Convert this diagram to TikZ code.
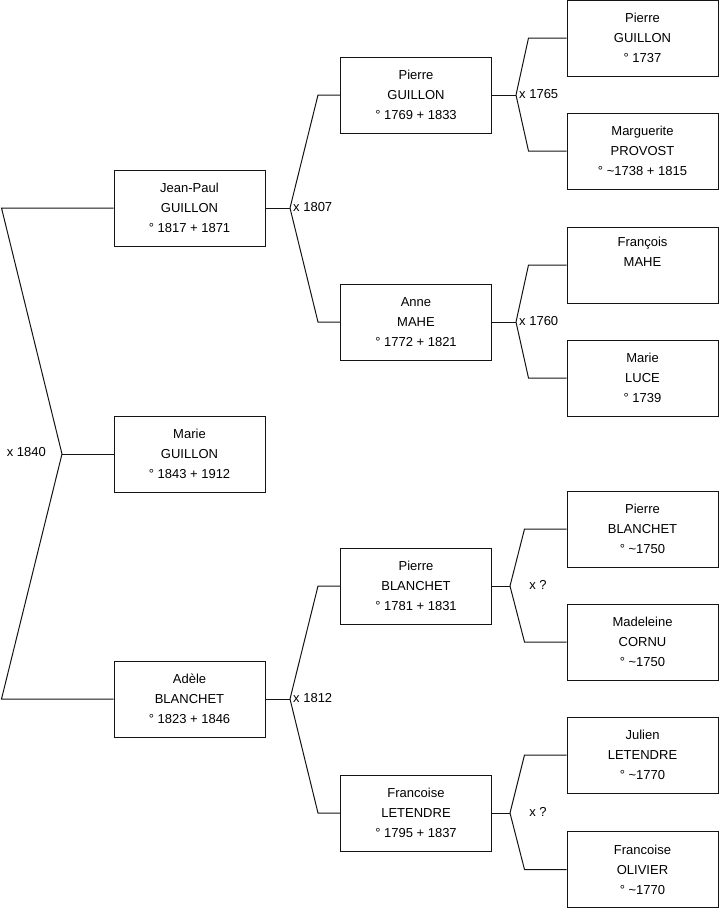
\documentclass[tikz,border=0pt]{standalone}
\usepackage{fontspec}
\setmainfont{Liberation Sans}
\usetikzlibrary{calc}
\definecolor{GNline}{RGB}{20,20,20}
\tikzset{
  person/.style={draw=GNline,line width=1pt,minimum width=151pt,minimum height=76pt,
                 inner sep=0pt,align=center,font=\fontsize{13}{20}\selectfont},
  link/.style={draw=GNline,line width=1pt},
  union/.style={font=\fontsize{13}{15}\selectfont,inner sep=0pt}
}
\begin{document}
\begin{tikzpicture}[x=1pt,y=-1pt]
  \useasboundingbox (0,0) rectangle (719,908);
  % generation 1
  \node[person] (jp) at (189.5,208) {Jean-Paul\\GUILLON\\° 1817 + 1871};
  \node[person] (marie) at (189.5,454) {Marie\\GUILLON\\° 1843 + 1912};
  \node[person] (adele) at (189.5,699) {Adèle\\BLANCHET\\° 1823 + 1846};
  % generation 2
  \node[person] (pg) at (416,95) {Pierre\\GUILLON\\° 1769 + 1833};
  \node[person] (am) at (416,322) {Anne\\MAHE\\° 1772 + 1821};
  \node[person] (pb) at (416,586) {Pierre\\BLANCHET\\° 1781 + 1831};
  \node[person] (fl) at (416,813) {Francoise\\LETENDRE\\° 1795 + 1837};
  % generation 3
  \node[person] (pg2) at (642.5,38) {Pierre\\GUILLON\\° 1737};
  \node[person] (mp) at (642.5,151) {Marguerite\\PROVOST\\° \textasciitilde 1738 + 1815};
  \node[person] (fm) at (642.5,265) {François\\MAHE\\\strut};
  \node[person] (ml) at (642.5,378) {Marie\\LUCE\\° 1739};
  \node[person] (pb2) at (642.5,529) {Pierre\\BLANCHET\\° \textasciitilde 1750};
  \node[person] (mc) at (642.5,642) {Madeleine\\CORNU\\° \textasciitilde 1750};
  \node[person] (jl) at (642.5,755) {Julien\\LETENDRE\\° \textasciitilde 1770};
  \node[person] (fo) at (642.5,869.5) {Francoise\\OLIVIER\\° \textasciitilde 1770};

  % unions
  \coordinate (u1840) at (62,454);
  \draw[link] (marie.west) -- (u1840);
  \draw[link] (u1840) -- ([xshift=-112pt]jp.west) -- (jp.west);
  \draw[link] (u1840) -- ([xshift=-112pt]adele.west) -- (adele.west);
  \node[union,anchor=east] (l1840) at (46,452) {x 1840};

  \coordinate (u1807) at (290,208);
  \draw[link] (jp.east) -- (u1807);
  \draw[link] (u1807) -- ([xshift=-22pt]pg.west) -- (pg.west);
  \draw[link] (u1807) -- ([xshift=-22pt]am.west) -- (am.west);
  \node[union,anchor=west] (l1807) at (293,207) {x 1807};

  \coordinate (u1812) at (290,699);
  \draw[link] (adele.east) -- (u1812);
  \draw[link] (u1812) -- ([xshift=-22pt]pb.west) -- (pb.west);
  \draw[link] (u1812) -- ([xshift=-22pt]fl.west) -- (fl.west);
  \node[union,anchor=west] (l1812) at (293,698) {x 1812};

  \coordinate (u1765) at (516,95);
  \draw[link] (pg.east) -- (u1765);
  \draw[link] (u1765) -- ([xshift=-38pt]pg2.west) -- (pg2.west);
  \draw[link] (u1765) -- ([xshift=-38pt]mp.west) -- (mp.west);
  \node[union,anchor=west] (l1765) at (519,94) {x 1765};

  \coordinate (u1760) at (516,322);
  \draw[link] (am.east) -- (u1760);
  \draw[link] (u1760) -- ([xshift=-38pt]fm.west) -- (fm.west);
  \draw[link] (u1760) -- ([xshift=-38pt]ml.west) -- (ml.west);
  \node[union,anchor=west] (l1760) at (519,321) {x 1760};

  \coordinate (upb) at (510,586);
  \draw[link] (pb.east) -- (upb);
  \draw[link] (upb) -- ([xshift=-42pt]pb2.west) -- (pb2.west);
  \draw[link] (upb) -- ([xshift=-42pt]mc.west) -- (mc.west);
  \node[union] (lpb) at (538,585) {x ?};

  \coordinate (ufl) at (510,813);
  \draw[link] (fl.east) -- (ufl);
  \draw[link] (ufl) -- ([xshift=-42pt]jl.west) -- (jl.west);
  \draw[link] (ufl) -- ([xshift=-42pt]fo.west) -- (fo.west);
  \node[union] (lfl) at (538,812) {x ?};
\end{tikzpicture}
\end{document}
